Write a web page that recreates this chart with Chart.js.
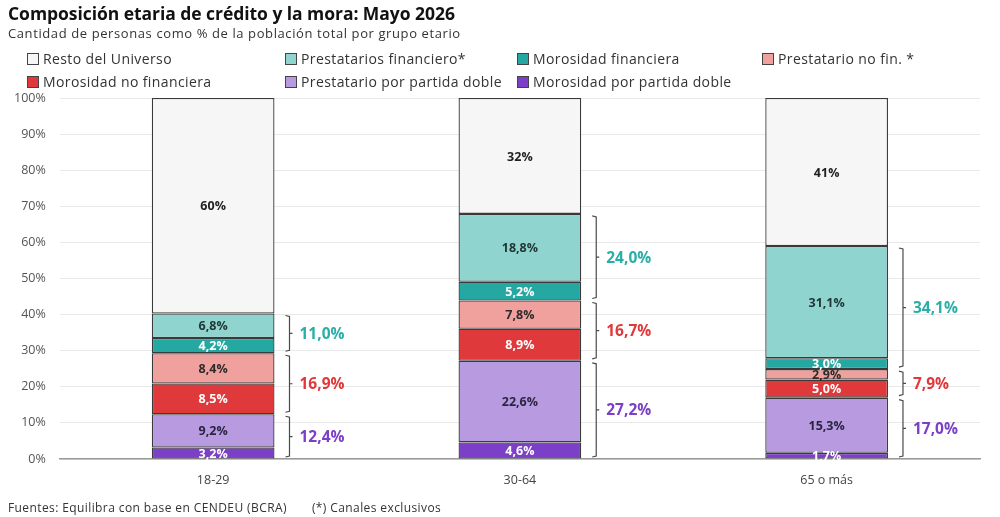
<!DOCTYPE html>
<html>
<head>
<meta charset="utf-8">
<script src="https://cdn.jsdelivr.net/npm/chart.js@4.4.1/dist/chart.umd.min.js"></script>
<style>
  body { margin: 0; background: #fff; font-family: 'Open Sans', sans-serif; color: #333; }
  #wrap { position: relative; width: 1000px; height: 517px; overflow: hidden; }
  #chart { position: absolute; left: 0; top: 0; }
  .title { position: absolute; left: 8px; top: 1px; font-size: 17.5px; font-weight: 700; color: #111; letter-spacing: -0.05px; }
  .subtitle { position: absolute; left: 8px; top: 24px; font-size: 13px; color: #333; letter-spacing: 0.6px; }
  .legend { position: absolute; left: 27px; top: 49px; display: grid; grid-template-columns: 258px 232px 245px 230px; row-gap: 4px; font-size: 14px; color: #333; letter-spacing: 0.4px; }
  .legend div { display: flex; align-items: center; height: 19px; white-space: nowrap; }
  .legend span.box { width: 10px; height: 10px; border: 1px solid #444; margin-right: 4px; display: inline-block; }
  .footer { position: absolute; left: 8px; top: 499px; font-size: 12px; color: #333; letter-spacing: 0.4px; }
  .footer span { margin-left: 25px; }
</style>
</head>
<body>
<div id="wrap">
  <canvas id="chart" width="1000" height="517"></canvas>
  <div class="title">Composición etaria de crédito y la mora: Mayo 2026</div>
  <div class="subtitle">Cantidad de personas como % de la población total por grupo etario</div>
  <div class="legend" id="legend"></div>
  <div class="footer">Fuentes: Equilibra con base en CENDEU (BCRA)<span>(*) Canales exclusivos</span></div>
</div>
<script>
// grupos etarios
const categories = ['18-29', '30-64', '65 o más']

// series, de abajo hacia arriba en la pila
const morosidadDoble = [3.2, 4.6, 1.7]
const prestatarioDoble = [9.2, 22.6, 15.3]
const morosidadNoFin = [8.5, 8.9, 5.0]
const prestatarioNoFin = [8.4, 7.8, 2.9]
const morosidadFin = [4.2, 5.2, 3.0]
const prestatarioFin = [6.8, 18.8, 31.1]
const restoUniverso = [59.7, 32.1, 41.0]

const yTicks = [0, 10, 20, 30, 40, 50, 60, 70, 80, 90, 100]

const datasets = [
  { label: 'Morosidad por partida doble', data: morosidadDoble, backgroundColor: '#7b3fc8', text: '#fff' },
  { label: 'Prestatario por partida doble', data: prestatarioDoble, backgroundColor: '#b79ae0', text: '#2a2440' },
  { label: 'Morosidad no financiera', data: morosidadNoFin, backgroundColor: '#e0393b', text: '#fff' },
  { label: 'Prestatario no fin. *', data: prestatarioNoFin, backgroundColor: '#f0a19d', text: '#2b2b2b' },
  { label: 'Morosidad financiera', data: morosidadFin, backgroundColor: '#26a8a2', text: '#fff' },
  { label: 'Prestatarios financiero*', data: prestatarioFin, backgroundColor: '#8fd4cf', text: '#1f3534' },
  { label: 'Resto del Universo', data: restoUniverso, backgroundColor: '#f6f6f6', text: '#222', round: true }
].map(d => Object.assign(d, {
  borderColor: '#3a3a3a',
  borderWidth: 1.3,
  borderSkipped: false,
  barPercentage: 0.4,
  categoryPercentage: 1
}))

// llaves con totales: [indice inferior, indice superior, color]
const groups = [
  [0, 1, '#7b3fc8'],
  [2, 3, '#e0393b'],
  [4, 5, '#2aaea7']
]

const fmt = v => v.toFixed(1).replace('.', ',') + '%'

// leyenda en grilla (orden de arriba hacia abajo)
const legendEl = document.getElementById('legend')
datasets.slice().reverse().forEach(d => {
  const item = document.createElement('div')
  item.innerHTML = '<span class="box" style="background:' + d.backgroundColor + '"></span>' + d.label
  legendEl.appendChild(item)
})

const segmentLabels = {
  id: 'segmentLabels',
  afterDatasetsDraw(chart) {
    const ctx = chart.ctx
    ctx.save()
    ctx.font = 'bold 12.5px "Open Sans"'
    ctx.textAlign = 'center'
    ctx.textBaseline = 'middle'
    chart.data.datasets.forEach((ds, i) => {
      chart.getDatasetMeta(i).data.forEach((bar, j) => {
        const v = ds.data[j]
        ctx.fillStyle = ds.text
        ctx.fillText(ds.round ? Math.round(v) + '%' : fmt(v), bar.x, (bar.y + bar.base) / 2 + 1)
      })
    })
    ctx.restore()
  }
}

const brackets = {
  id: 'brackets',
  afterDatasetsDraw(chart) {
    const ctx = chart.ctx
    const y = chart.scales.y
    ctx.save()
    chart.getDatasetMeta(0).data.forEach((bar, j) => {
      const x = bar.x + bar.width / 2 + 15
      groups.forEach(([lo, hi, color]) => {
        let base = 0
        for (let k = 0; k < lo; k++) base += datasets[k].data[j]
        const total = datasets[lo].data[j] + datasets[hi].data[j]
        const yb = y.getPixelForValue(base) - 2
        const yt = y.getPixelForValue(base + total) + 2
        const ym = (yb + yt) / 2
        ctx.strokeStyle = '#4a4a4a'
        ctx.lineWidth = 1.2
        ctx.beginPath()
        ctx.moveTo(x - 4, yt)
        ctx.lineTo(x, yt + 1)
        ctx.lineTo(x, yb - 1)
        ctx.lineTo(x - 4, yb)
        ctx.moveTo(x, ym)
        ctx.lineTo(x + 3, ym)
        ctx.stroke()
        ctx.fillStyle = color
        ctx.font = 'bold 15.5px "Open Sans"'
        ctx.textAlign = 'left'
        ctx.textBaseline = 'middle'
        ctx.fillText(fmt(total), x + 10, ym + 1)
      })
    })
    ctx.restore()
  }
}

new Chart(document.getElementById('chart'), {
  type: 'bar',
  data: { labels: categories, datasets: datasets },
  options: {
    responsive: false,
    animation: false,
    layout: { padding: { top: 98, left: 0, right: 20, bottom: 23 } },
    plugins: { legend: { display: false }, tooltip: { enabled: false } },
    scales: {
      x: {
        stacked: true,
        grid: { display: false },
        border: { color: '#9a9a9a', width: 1.5 },
        ticks: { color: '#444', font: { family: 'Open Sans', size: 12.5 }, padding: 6 }
      },
      y: {
        stacked: true,
        min: 0,
        max: 100,
        afterBuildTicks: axis => { axis.ticks = yTicks.map(v => ({ value: v })) },
        grid: { color: '#e9e9e9', drawTicks: false },
        border: { display: false },
        ticks: { color: '#555', font: { family: 'Open Sans', size: 12.5 }, padding: 14, callback: v => v + '%' }
      }
    }
  },
  plugins: [segmentLabels, brackets]
})
</script>
</body>
</html>
